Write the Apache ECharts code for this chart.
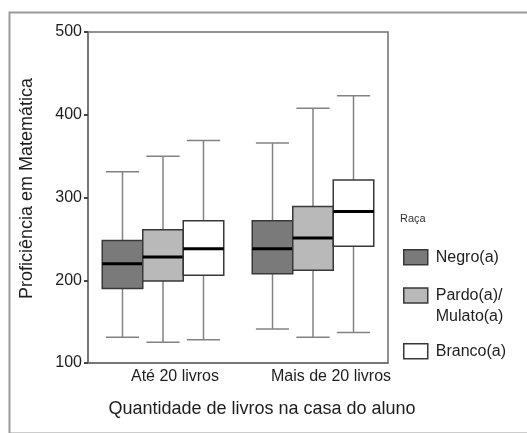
<!DOCTYPE html>
<html>
<head>
<meta charset="utf-8">
<script src="https://cdn.jsdelivr.net/npm/echarts@6/dist/echarts.min.js"></script>
<style>
  html, body { margin: 0; padding: 0; background: #fff; }
  #chart { width: 527px; height: 433px; }
</style>
</head>
<body>
<div id="chart"></div>
<script>
// Book-count groups along the x axis
const categories = ['Até 20 livros', 'Mais de 20 livros'];
// Race groups (legend entries)
const raceNames = ['Negro(a)', 'Pardo(a)/Mulato(a)', 'Branco(a)'];
// Box statistics per group: [min whisker, Q1, median, Q3, max whisker]
const negroStats  = [[131, 190, 220, 248, 331], [141, 208, 238, 272, 366]];
const pardoStats  = [[125, 199, 228, 261, 350], [131, 212, 251, 289, 408]];
const brancoStats = [[128, 206, 238, 272, 369], [137, 241, 283, 321, 423]];
// Y axis ticks
const yTicks = [100, 200, 300, 400, 500];

const fills = ['#7a7a7a', '#b9b9b9', '#ffffff'];
const font = '"Liberation Sans", Arial, sans-serif';
const textColor = '#1e1e1e';

function renderBox(params, api) {
  const si = params.seriesIndex;
  const cat = api.value(0);
  const band = api.size([1, 0])[0];
  const w = band * 0.27;
  const cx = api.coord([cat, yTicks[0]])[0] + (si - 1) * w;
  const y = i => api.coord([cat, api.value(i)])[1];
  const yLo = y(1), yQ1 = y(2), yMed = y(3), yQ3 = y(4), yHi = y(5);
  const cap = w * 0.82;
  const whisker = { stroke: '#828282', lineWidth: 1.5 };
  return {
    type: 'group',
    children: [
      { type: 'line', shape: { x1: cx, y1: yHi, x2: cx, y2: yQ3 }, style: whisker },
      { type: 'line', shape: { x1: cx, y1: yQ1, x2: cx, y2: yLo }, style: whisker },
      { type: 'line', shape: { x1: cx - cap / 2, y1: yHi, x2: cx + cap / 2, y2: yHi }, style: whisker },
      { type: 'line', shape: { x1: cx - cap / 2, y1: yLo, x2: cx + cap / 2, y2: yLo }, style: whisker },
      { type: 'rect', shape: { x: cx - w / 2, y: yQ3, width: w, height: yQ1 - yQ3 },
        style: { fill: fills[si], stroke: '#383838', lineWidth: 1.5 } },
      { type: 'line', shape: { x1: cx - w / 2, y1: yMed, x2: cx + w / 2, y2: yMed },
        style: { stroke: '#000', lineWidth: 3 } }
    ]
  };
}

function toData(stats) {
  return stats.map((s, i) => [i].concat(s));
}

const allStats = [negroStats, pardoStats, brancoStats];

const legendBase = {
  orient: 'vertical',
  left: 403,
  padding: 0,
  itemWidth: 24,
  itemHeight: 15,
  icon: 'rect',
  selectedMode: false,
  itemStyle: { borderColor: '#383838', borderWidth: 1.5 },
  textStyle: { fontFamily: font, fontSize: 16, color: textColor, lineHeight: 15, padding: [0, 0, 0, 3] }
};

const chart = echarts.init(document.getElementById('chart'), null, { renderer: 'canvas' });
chart.setOption({
  animation: false,
  backgroundColor: '#fff',
  title: {
    text: 'Raça', left: 400, top: 213, padding: 0,
    textStyle: { fontFamily: font, fontSize: 11, fontWeight: 'normal', color: '#333' }
  },
  legend: [
    Object.assign({}, legendBase, { top: 249, data: [raceNames[0]] }),
    Object.assign({}, legendBase, {
      top: 264,
      data: [raceNames[1]],
      formatter: () => '\nPardo(a)/\nMulato(a)',
      textStyle: Object.assign({}, legendBase.textStyle, { lineHeight: 21 })
    }),
    Object.assign({}, legendBase, { top: 343, data: [raceNames[2]] })
  ],
  grid: {
    left: 88, right: 139, top: 32, bottom: 70,
    show: true, borderColor: '#6e6e6e', borderWidth: 1.5
  },
  xAxis: {
    type: 'category',
    data: categories,
    name: 'Quantidade de livros na casa do aluno',
    nameLocation: 'middle',
    nameGap: 37,
    nameTextStyle: { fontFamily: font, fontSize: 18, color: textColor, padding: [0, 0, 0, 48] },
    axisLine: { lineStyle: { color: '#6e6e6e', width: 1.5 } },
    axisTick: { alignWithLabel: true, length: 3, lineStyle: { color: '#444', width: 2 } },
    axisLabel: {
      interval: 0,
      hideOverlap: false,
      fontFamily: font, fontSize: 16, color: textColor, margin: 6,
      formatter: (v, i) => (i === 0 ? '{a|' + v + '}' : '{b|' + v + '}'),
      rich: {
        a: { fontFamily: font, fontSize: 16, color: textColor, padding: [0, 0, 0, 24] },
        b: { fontFamily: font, fontSize: 16, color: textColor, padding: [0, 0, 0, 36] }
      }
    },
    splitLine: { show: false }
  },
  yAxis: {
    type: 'value',
    min: yTicks[0],
    max: yTicks[yTicks.length - 1],
    interval: yTicks[1] - yTicks[0],
    name: 'Proficiência em Matemática',
    nameLocation: 'middle',
    nameGap: 52,
    nameTextStyle: { fontFamily: font, fontSize: 18, color: textColor, padding: [0, 0, 0, 18] },
    axisLine: { show: true, lineStyle: { color: '#6e6e6e', width: 1.5 } },
    axisTick: { show: true, length: 4, lineStyle: { color: '#444', width: 2 } },
    axisLabel: { fontFamily: font, fontSize: 16, color: textColor, margin: 6 },
    splitLine: { show: false }
  },
  graphic: [{
    type: 'rect',
    left: 7, top: 10,
    shape: { width: 600, height: 421 },
    style: { fill: 'none', stroke: '#9a9a9a', lineWidth: 2 },
    silent: true
  }],
  series: allStats.map((stats, si) => ({
    type: 'custom',
    name: raceNames[si],
    renderItem: renderBox,
    itemStyle: { color: fills[si], borderColor: '#383838', borderWidth: 1.5 },
    encode: { x: 0, y: [1, 2, 3, 4, 5] },
    data: toData(stats)
  }))
});
</script>
</body>
</html>
